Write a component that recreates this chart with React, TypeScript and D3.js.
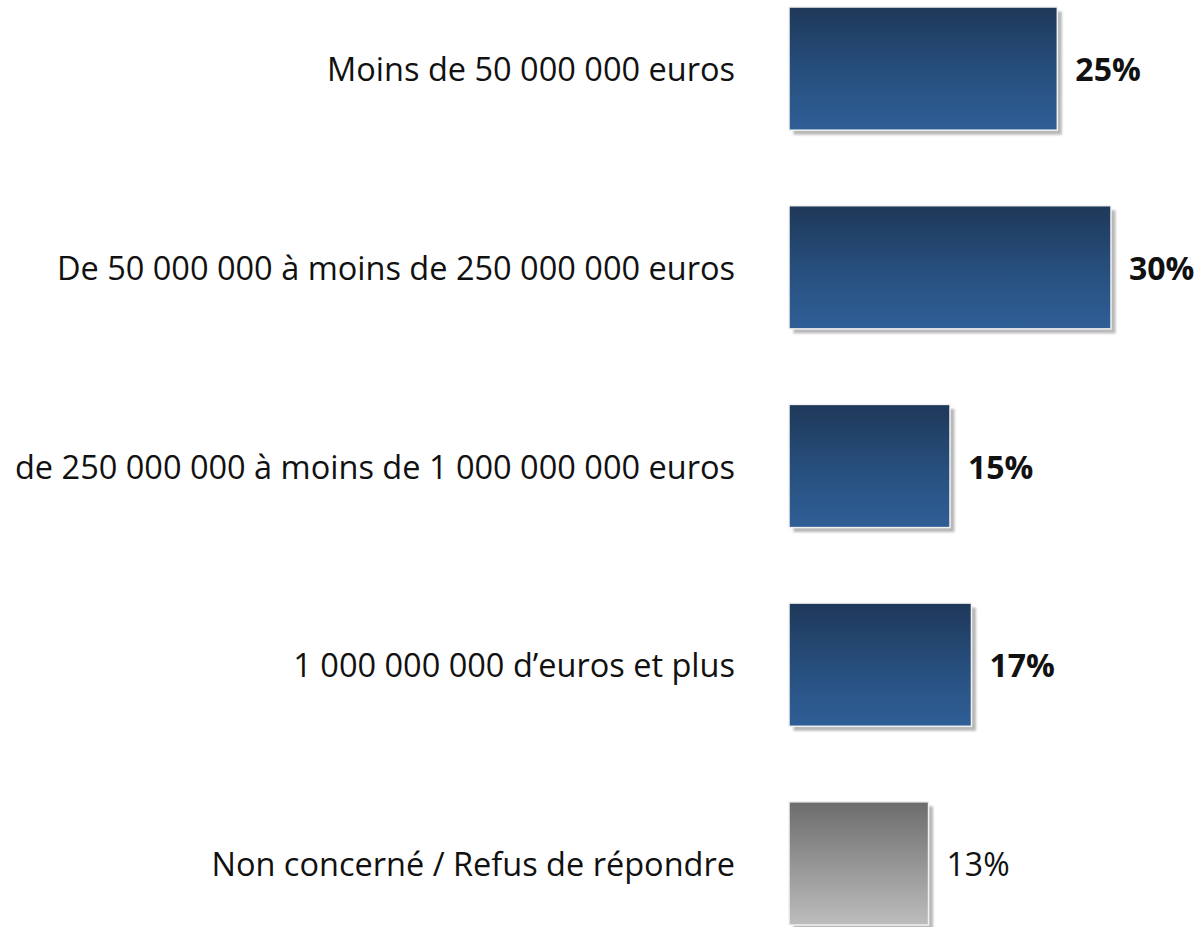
import React from "react";
import * as d3 from "d3";

const categories = [
  "Moins de 50 000 000 euros",
  "De 50 000 000 à moins de 250 000 000 euros",
  "de 250 000 000 à moins de 1 000 000 000 euros",
  "1 000 000 000 d\u2019euros et plus",
  "Non concerné / Refus de répondre",
];
const values = [25, 30, 15, 17, 13];
const valueLabels = ["25%", "30%", "15%", "17%", "13%"];
const isGray = [false, false, false, false, true];

const W = 1198;
const H = 927;
const FONT = "'Open Sans', 'Noto Sans', sans-serif";

export default function App() {
  const x = d3.scaleLinear().domain([0, 30]).range([789, 1111]);
  const y = d3
    .scaleBand<string>()
    .domain(categories)
    .range([7, 925])
    .paddingInner(0.38)
    .paddingOuter(0);
  const bw = y.bandwidth();

  return (
    <svg
      width={W}
      height={H}
      style={{ position: "absolute", left: 0, top: 0, background: "#fff" }}
    >
      <defs>
        <linearGradient id="gBlue" x1="0" y1="0" x2="0" y2="1">
          <stop offset="0%" stopColor="#1e3859" />
          <stop offset="55%" stopColor="#27507f" />
          <stop offset="100%" stopColor="#2f5f97" />
        </linearGradient>
        <linearGradient id="gGray" x1="0" y1="0" x2="0" y2="1">
          <stop offset="0%" stopColor="#6c6c6c" />
          <stop offset="100%" stopColor="#bdbdbd" />
        </linearGradient>
        <filter id="blur" x="-10%" y="-10%" width="120%" height="120%">
          <feGaussianBlur stdDeviation="1.2" />
        </filter>
      </defs>
      {categories.map((c, i) => {
        const y0 = y(c)!;
        const x0 = x(0);
        const x1 = x(values[i]);
        const cy = y0 + bw / 2;
        return (
          <g key={c}>
            <rect
              x={x0 + 4.5}
              y={y0 + 4.5}
              width={x1 - x0}
              height={bw}
              fill="#b8b8b8"
              filter="url(#blur)"
            />
            <rect
              x={x0}
              y={y0}
              width={x1 - x0}
              height={bw}
              fill={isGray[i] ? "url(#gGray)" : "url(#gBlue)"}
              stroke="#f2f2f2"
              strokeWidth={1.5}
            />
            <text
              x={735}
              y={cy}
              textAnchor="end"
              dominantBaseline="central"
              fontFamily={FONT}
              fontSize={32.5}
              fill="#111"
            >
              {c}
            </text>
            <text
              x={x1 + 18}
              y={cy}
              dominantBaseline="central"
              fontFamily={FONT}
              fontSize={32}
              fontWeight={isGray[i] ? 400 : 700}
              fill="#111"
            >
              {valueLabels[i]}
            </text>
          </g>
        );
      })}
    </svg>
  );
}
